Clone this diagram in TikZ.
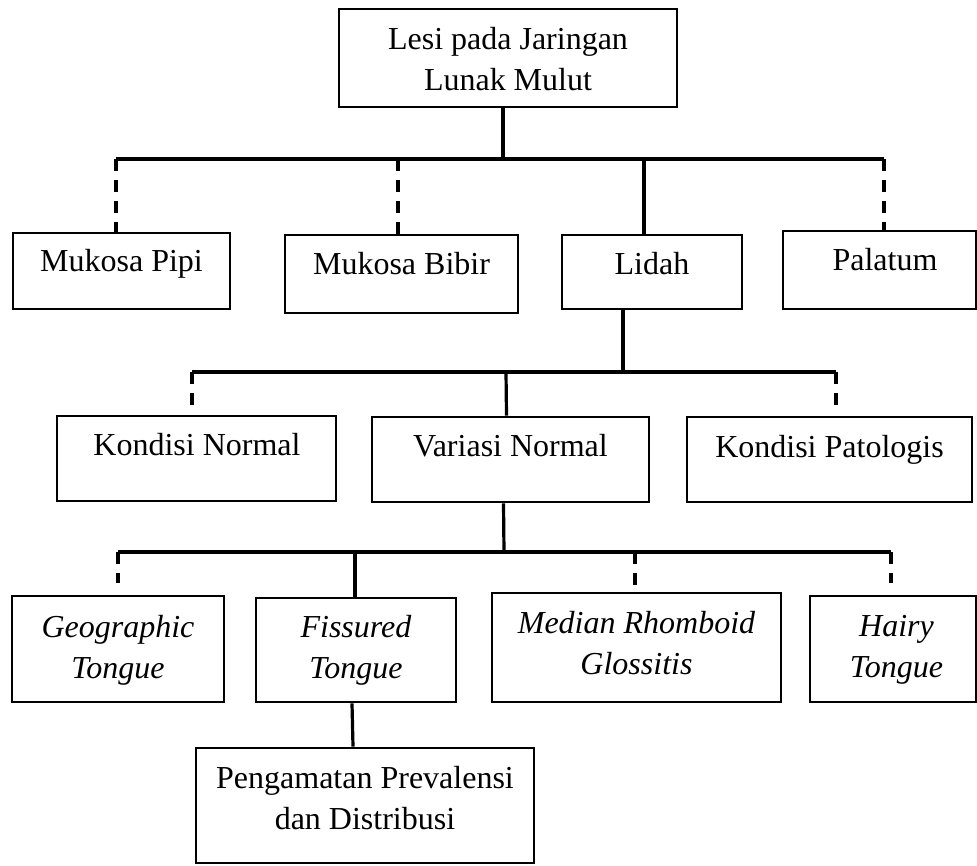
\documentclass[tikz,border=0pt]{standalone}
\usepackage{fontspec}
\setmainfont{Liberation Serif}
\usetikzlibrary{calc}
\newcommand{\twol}[2]{\setlength{\tabcolsep}{0pt}\begin{tabular}[t]{c}#1\\#2\end{tabular}}
\tikzset{
  boxnode/.style={draw=black, line width=2.9pt, inner sep=0pt, rectangle},
  lbl/.style={anchor=base, inner sep=0pt, font=\fontsize{32}{41}\selectfont},
  solidline/.style={draw=black, line width=3.2pt},
  dashline/.style={draw=black, line width=3.2pt, dash pattern=on 12pt off 9pt},
}
\begin{document}
\begin{tikzpicture}[x=1pt,y=-1pt]
\useasboundingbox (0,0) rectangle (977,866);
\node[boxnode, minimum width=338pt, minimum height=98pt] (top) at (508,58) {};
\node[lbl] (topT) at (508,50) {\twol{Lesi pada Jaringan}{Lunak Mulut}};

\node[boxnode, minimum width=217pt, minimum height=76pt] (pipi) at (121.5,271) {};
\node[lbl] (pipiT) at (121.5,272) {Mukosa Pipi};

\node[boxnode, minimum width=233pt, minimum height=78pt] (bibir) at (401.5,274) {};
\node[lbl] (bibirT) at (401.5,275) {Mukosa Bibir};

\node[boxnode, minimum width=180pt, minimum height=74pt] (lidah) at (652,272) {};
\node[lbl] (lidahT) at (652,275) {Lidah};

\node[boxnode, minimum width=193pt, minimum height=78pt] (palatum) at (879.5,270) {};
\node[lbl] (palatumT) at (885,271) {Palatum};

\node[boxnode, minimum width=279pt, minimum height=85pt] (knormal) at (196.5,458.5) {};
\node[lbl] (knormalT) at (197,455) {Kondisi Normal};

\node[boxnode, minimum width=277pt, minimum height=85pt] (variasi) at (510.5,459.5) {};
\node[lbl] (variasiT) at (510.5,456) {Variasi Normal};

\node[boxnode, minimum width=285pt, minimum height=85pt] (pato) at (829.5,459.5) {};
\node[lbl] (patoT) at (829.5,457) {Kondisi Patologis};

\node[boxnode, minimum width=212pt, minimum height=106pt] (geo) at (118,649) {};
\node[lbl] (geoT) at (118,637) {\itshape\twol{Geographic}{Tongue}};

\node[boxnode, minimum width=200pt, minimum height=104pt] (fis) at (356,650) {};
\node[lbl] (fisT) at (356,637) {\itshape\twol{Fissured}{Tongue}};

\node[boxnode, minimum width=289pt, minimum height=109pt] (median) at (636.5,647.5) {};
\node[lbl] (medianT) at (636.5,633) {\itshape\twol{Median Rhomboid}{Glossitis}};

\node[boxnode, minimum width=166pt, minimum height=106pt] (hairy) at (893,649) {};
\node[lbl] (hairyT) at (896.5,636) {\itshape\twol{Hairy}{Tongue}};

\node[boxnode, minimum width=338pt, minimum height=115pt] (peng) at (365,805.5) {};
\node[lbl] (pengT) at (365,788) {\twol{Pengamatan Prevalensi}{dan Distribusi}};

% bars
\coordinate (b1L) at (116,159);
\coordinate (b1R) at (884,159);
\coordinate (b1M) at (503,159);
\coordinate (b1B) at (398,159);
\coordinate (b1D) at (644,159);
\coordinate (b2L) at (192,372);
\coordinate (b2R) at (836,372);
\coordinate (b2M) at (623,372);
\coordinate (b2V) at (506,372);
\coordinate (b3L) at (118,552);
\coordinate (b3R) at (891,552);
\coordinate (b3M) at (504,552);
\coordinate (b3F) at (355,552);
\coordinate (b3D) at (635,552);

\draw[solidline] (b1L) -- (b1R);
\draw[solidline] (top.south -| b1M) -- (b1M);
\draw[dashline] (b1L) -- (b1L |- pipi.north);
\draw[dashline] (b1B) -- (b1B |- bibir.north);
\draw[solidline] (b1D) -- (b1D |- lidah.north);
\draw[dashline] (b1R) -- (b1R |- palatum.north);

\draw[solidline] (b2L) -- (b2R);
\draw[solidline] (lidah.south -| b2M) -- (b2M);
\draw[dashline] (b2L) -- ($(b2L |- knormal.north)+(0,-10)$);
\draw[solidline] (b2V) -- ($(variasi.north)+(-4,0)$);
\draw[dashline] (b2R) -- ($(b2R |- pato.north)+(0,-10)$);

\draw[solidline] (b3L) -- (b3R);
\draw[solidline] ($(variasi.south)+(-7,0)$) -- (b3M);
\draw[dashline] (b3L) -- ($(b3L |- geo.north)+(0,-12)$);
\draw[solidline] (b3F) -- (b3F |- fis.north);
\draw[dashline] (b3D) -- ($(b3D |- median.north)+(0,-7)$);
\draw[dashline] (b3R) -- ($(b3R |- hairy.north)+(0,-12)$);

\draw[solidline] ($(fis.south)+(-4,0)$) -- ($(peng.north)+(-12,0)$);
\end{tikzpicture}
\end{document}
